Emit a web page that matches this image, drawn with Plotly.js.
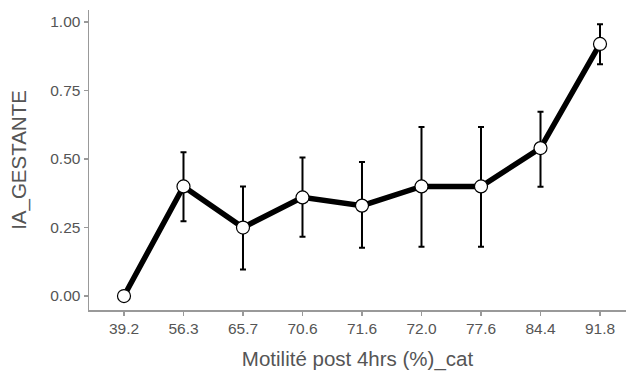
<!DOCTYPE html>
<html>
<head>
<meta charset="utf-8">
<script src="https://cdn.plot.ly/plotly-3.0.1.min.js"></script>
<style>html,body{margin:0;padding:0;background:#fff;}#chart{width:626px;height:373px;}</style>
</head>
<body>
<div id="chart"></div>
<script>
const categories = ["39.2","56.3","65.7","70.6","71.6","72.0","77.6","84.4","91.8"];
const means = [0, 0.40, 0.25, 0.36, 0.33, 0.40, 0.40, 0.54, 0.92];
const upper = [0, 0.525, 0.40, 0.506, 0.489, 0.617, 0.617, 0.673, 0.992];
const lower = [0, 0.273, 0.097, 0.216, 0.176, 0.18, 0.18, 0.399, 0.846];
const yTicks = [0, 0.25, 0.5, 0.75, 1.0];
const yTickLabels = ["0.00","0.25","0.50","0.75","1.00"];

const errPlus = means.map((m,i)=>upper[i]-m);
const errMinus = means.map((m,i)=>m-lower[i]);

const traces = [
  {
    x: categories, y: means, type: 'scatter', mode: 'markers',
    marker: {size: 1, color: 'rgba(0,0,0,0)'},
    error_y: {type: 'data', array: errPlus, arrayminus: errMinus, visible: true,
              color: '#000', thickness: 2, width: 3},
    hoverinfo: 'skip', showlegend: false
  },
  {
    x: categories, y: means, type: 'scatter', mode: 'lines+markers',
    line: {color: '#000', width: 5.5},
    marker: {size: 13, color: '#fff', line: {color: '#000', width: 1.2}},
    showlegend: false
  }
];

const layout = {
  width: 626, height: 373,
  margin: {l: 89, r: 0, t: 10, b: 63},
  paper_bgcolor: '#fff', plot_bgcolor: '#fff',
  font: {family: 'Liberation Sans, Arial, sans-serif'},
  xaxis: {
    type: 'category', range: [-0.588, 8.437],
    showline: true, linecolor: '#999', linewidth: 1.5,
    ticks: 'outside', ticklen: 4, tickcolor: '#999', tickwidth: 1.5,
    showgrid: false, zeroline: false,
    tickfont: {size: 15.5, color: '#555'},
    title: {text: 'Motilité post 4hrs (%)_cat', font: {size: 20.5, color: '#555'}, standoff: 15}
  },
  yaxis: {
    range: [-0.051, 1.044],
    tickvals: yTicks, ticktext: yTickLabels,
    showline: true, linecolor: '#999', linewidth: 1.5,
    ticks: 'outside', ticklen: 4, tickcolor: '#999', tickwidth: 1.5,
    showgrid: false, zeroline: false,
    tickfont: {size: 15.5, color: '#555'},
    title: {text: 'IA_GESTANTE', font: {size: 20.5, color: '#555'}, standoff: 18}
  }
};

Plotly.newPlot('chart', traces, layout, {staticPlot: true, displayModeBar: false});
</script>
</body>
</html>
